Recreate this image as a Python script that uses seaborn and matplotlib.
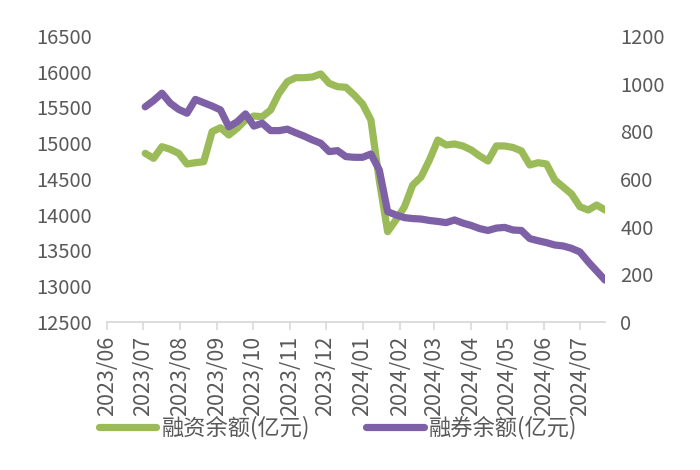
import matplotlib
matplotlib.use("Agg")
import matplotlib.pyplot as plt
import matplotlib.dates as mdates
import pandas as pd
import seaborn as sns

# weekly observations (Mondays)
start_date = "2023-07-03"
n_weeks = 56

margin_financing = [
    14859, 14789, 14952, 14915, 14859, 14710, 14728, 14742, 15161, 15217,
    15115, 15209, 15325, 15381, 15371, 15465, 15699, 15861, 15917, 15917,
    15927, 15969, 15838, 15791, 15783, 15675, 15549, 15325, 14480, 13763,
    13929, 14108, 14416, 14528, 14766, 15045, 14976, 14990, 14962, 14906,
    14822, 14752, 14962, 14962, 14941, 14892, 14696, 14728, 14710, 14486,
    14388, 14290, 14112, 14066, 14136, 14066,
]
securities_lending = [
    903, 929, 960, 918, 892, 876, 934, 920, 906, 890,
    819, 840, 873, 822, 834, 803, 803, 809, 794, 780,
    764, 750, 715, 719, 694, 691, 691, 705, 638, 463,
    449, 438, 434, 432, 426, 422, 417, 428, 415, 405,
    392, 384, 394, 397, 386, 384, 350, 341, 333, 323,
    319, 309, 294, 252, 214, 176,
]
label_fin = "融资余额(亿元)"
label_lend = "融券余额(亿元)"
left_ticks = [12500, 13000, 13500, 14000, 14500, 15000, 15500, 16000, 16500]
right_ticks = [0, 200, 400, 600, 800, 1000, 1200]
month_ticks = pd.date_range("2023-06-01", "2024-07-01", freq="MS")

dates = pd.date_range(start_date, periods=n_weeks, freq="7D")
df = pd.DataFrame({"date": dates, "fin": margin_financing, "lend": securities_lending})

sns.set_theme(style="white")
plt.rcParams["font.family"] = ["Noto Sans CJK SC", "DejaVu Sans"]

green = "#9BBB59"
purple = "#7E60A6"
txt = "#595959"

fig = plt.figure(figsize=(7, 4.7), dpi=100)
ax = fig.add_axes([107 / 700, 1 - 322 / 470, (605 - 107) / 700, (322 - 36) / 470])
ax2 = ax.twinx()

sns.lineplot(data=df, x="date", y="fin", ax=ax, color=green, linewidth=5.2,
             label=label_fin, legend=False)
sns.lineplot(data=df, x="date", y="lend", ax=ax2, color=purple, linewidth=5.2,
             label=label_lend, legend=False)

ax.set_xlim(pd.Timestamp("2023-06-01"), dates[-1])
ax.set_ylim(12500, 16500)
ax2.set_ylim(0, 1200)
ax.set_yticks(left_ticks)
ax2.set_yticks(right_ticks)
ax.set_xticks(month_ticks)
ax.xaxis.set_major_formatter(mdates.DateFormatter("%Y/%m"))

for a in (ax, ax2):
    a.set_xlabel("")
    a.set_ylabel("")
    for s in ("left", "right", "top", "bottom"):
        a.spines[s].set_visible(False)
    a.grid(False)

ax.spines["bottom"].set_visible(True)
ax.spines["bottom"].set_color("#D9D9D9")
ax.spines["bottom"].set_linewidth(1.3)

ax.tick_params(axis="x", which="major", direction="out", length=6, width=1.2,
               color="#D9D9D9", labelsize=15.5, labelcolor=txt, pad=4,
               labelrotation=90, bottom=True)
ax.tick_params(axis="y", length=0, labelsize=14.5, labelcolor=txt, pad=11)
ax2.tick_params(axis="y", length=0, labelsize=14.5, labelcolor=txt, pad=11)

h1, l1 = ax.get_legend_handles_labels()
h2, l2 = ax2.get_legend_handles_labels()
fig.legend(h1 + h2, l1 + l2, loc="center", bbox_to_anchor=(338 / 700, 1 - 428 / 470),
           ncol=2, frameon=False, fontsize=16, labelcolor=txt,
           handlelength=2.6, handletextpad=0.25, columnspacing=2.5)

fig.savefig("out.png", dpi=100, facecolor="white")
